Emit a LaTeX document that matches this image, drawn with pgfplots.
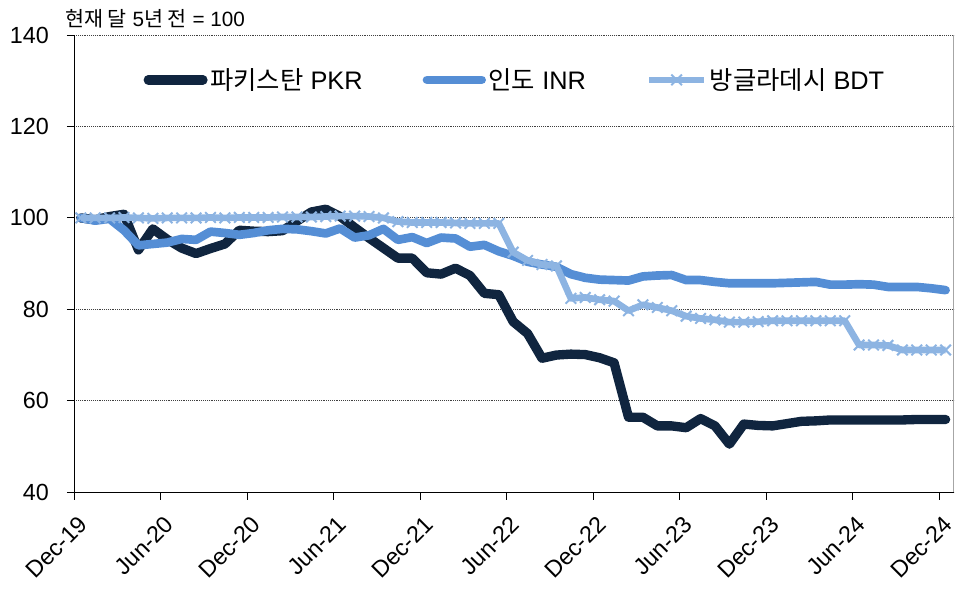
\documentclass[border=0pt]{standalone}
\usepackage{fontspec}
\setmainfont{Liberation Sans}
\newfontfamily\kr{Noto Sans CJK KR}
\usepackage{pgfplots}
\usepackage{pgfplotstable}
\pgfplotsset{compat=1.18}
\definecolor{pkr}{HTML}{10253F}
\definecolor{inr}{HTML}{558ED5}
\definecolor{bdt}{HTML}{8DB4E2}

% month index (0 = Dec-19), index of 5 years ago = 100
\pgfplotstableread{
x     pkr   inr   bdt
0.45  100.0 100.0 100.0
1.45  99.6  99.4  100.0
2.45  100.3 99.8  100.0
3.45  100.8 97.3  100.1
4.45  93.0  94.0  100.0
5.45  97.6  94.3  99.9
6.45  95.3  94.6  100.0
7.45  93.4  95.4  100.0
8.45  92.2  95.2  100.0
9.45  93.3  97.0  100.1
10.45 94.3  96.7  100.0
11.45 97.3  96.3  100.1
12.45 97.1  96.7  100.1
13.45 97.0  97.3  100.1
14.45 97.2  97.6  100.2
15.45 99.3  97.5  100.2
16.45 101.3 97.1  100.2
17.45 101.9 96.6  100.3
18.45 100.3 97.7  100.4
19.45 97.9  95.7  100.4
20.45 95.6  96.2  100.3
21.45 93.4  97.6  100.0
22.45 91.2  95.2  99.2
23.45 91.2  95.8  99.0
24.45 88.0  94.5  99.0
25.45 87.7  95.7  99.0
26.45 89.0  95.5  98.9
27.45 87.4  93.7  98.8
28.45 83.5  94.1  98.8
29.45 83.2  92.7  98.8
30.45 77.3  91.7  92.5
31.45 74.7  90.4  90.7
32.45 69.3  89.8  89.8
33.45 70.0  89.3  89.5
34.45 70.2  87.7  82.4
35.45 70.1  86.9  82.6
36.45 69.4  86.5  82.1
37.45 68.3  86.4  81.8
38.45 56.4  86.3  79.7
39.45 56.4  87.2  81.0
40.45 54.5  87.4  80.4
41.45 54.5  87.5  79.7
42.45 54.1  86.4  78.5
43.45 56.1  86.4  78.0
44.45 54.5  86.0  77.7
45.45 50.5  85.7  77.2
46.45 54.9  85.7  77.2
47.45 54.6  85.7  77.3
48.45 54.5  85.7  77.5
49.45 55.0  85.8  77.5
50.45 55.5  85.9  77.5
51.45 55.6  86.0  77.5
52.45 55.8  85.4  77.5
53.45 55.8  85.4  77.5
54.45 55.8  85.5  72.2
55.45 55.8  85.4  72.2
56.45 55.8  84.9  72.1
57.45 55.8  84.9  71.1
58.45 55.9  84.9  71.1
59.45 55.9  84.6  71.1
60.45 55.9  84.2  71.1
}\fx

\begin{document}
\begin{tikzpicture}
\useasboundingbox (-55.7pt,-73.4pt) rectangle (660.5pt,369.1pt);
\begin{axis}[
  scale only axis, width=659.4pt, height=342.8pt,
  xmin=0, xmax=61, ymin=40, ymax=140,
  clip=false,
  axis x line=bottom, axis y line=left,
  axis line style={-, line width=1pt, black},
  xtick={0,6,...,60},
  xticklabels={Dec-19,Jun-20,Dec-20,Jun-21,Dec-21,Jun-22,Dec-22,Jun-23,Dec-23,Jun-24,Dec-24},
  ytick={40,60,...,140},
  ymajorgrids, grid style={densely dotted, black!75, line width=0.8pt},
  tick align=outside, major tick length=5.5pt,
  tick style={black, line width=0.8pt},
  tick label style={font=\fontsize{17.5}{20}\selectfont},
  x tick label style={rotate=45, anchor=north east, xshift=-3pt, yshift=-6pt},
  y tick label style={xshift=-10pt},
  /pgf/number format/assume math mode=true,
  legend style={at={(0.074,0.902)}, anchor=west, draw=none, fill=none,
    font=\fontsize{19}{22}\selectfont,
    /tikz/every even column/.append style={column sep=43pt}},
  legend columns=3,
  legend image code/.code={\draw[mark repeat=2,mark phase=2,#1] plot coordinates {(0pt,0pt) (20.5pt,0pt) (41pt,0pt)};},
]
\addplot[pkr, line width=7pt, line cap=round, line join=round] table[x=x,y=pkr]{\fx};
\addlegendentry{{\kr 파키스탄} PKR}
\addplot[inr, line width=6.5pt, line cap=round, line join=round] table[x=x,y=inr]{\fx};
\addlegendentry{{\kr 인도} INR}
\addplot[bdt, line width=5pt, line join=round, mark=x, mark size=5.6pt,
  mark options={line width=1.5pt, solid}] table[x=x,y=bdt]{\fx};
\addlegendentry{{\kr 방글라데시} BDT}
\draw[gray!70, line width=0.8pt] (rel axis cs:1,0) -- (rel axis cs:1,1);
\node[anchor=base west, font=\fontsize{15.5}{18}\selectfont, inner sep=0pt]
  at (rel axis cs:-0.0106,1.0177) {{\kr 현재 달} 5{\kr 년 전} = 100};
\end{axis}
\end{tikzpicture}
\end{document}
